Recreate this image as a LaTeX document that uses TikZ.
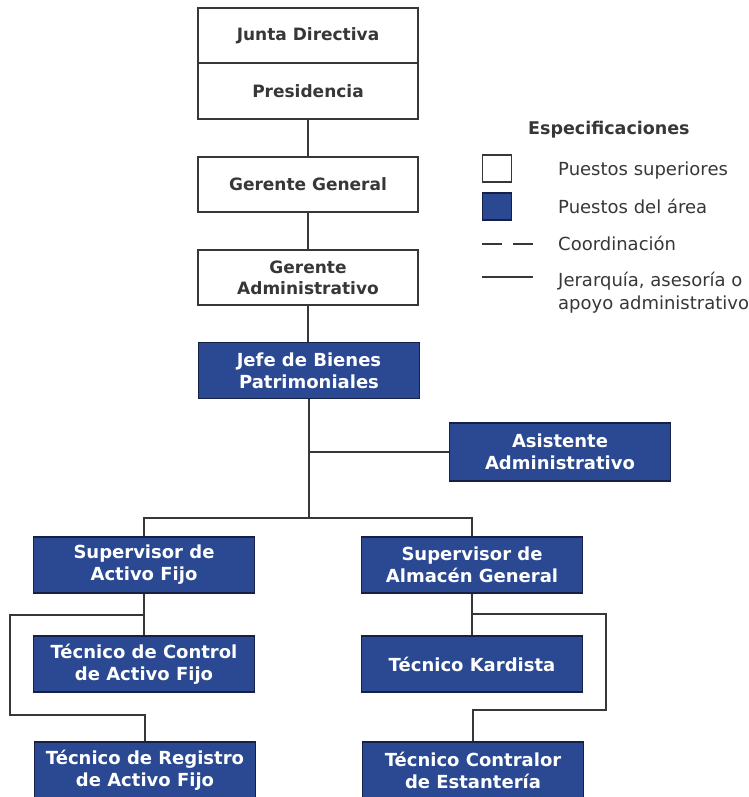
\documentclass[tikz,border=0pt]{standalone}
\usepackage{fontspec}
\setmainfont{DejaVu Sans}
\definecolor{areablue}{RGB}{42,73,146}
\definecolor{navyedge}{RGB}{22,32,70}
\definecolor{inkgray}{RGB}{55,55,55}
\tikzset{
  wbox/.style={draw=inkgray, line width=1.5pt, fill=white, minimum width=220pt, minimum height=55pt,
    align=center, inner sep=0pt, text=inkgray, font=\fontsize{17}{21}\selectfont\bfseries},
  bbox/.style={draw=navyedge, line width=1.5pt, fill=areablue, minimum width=221pt, minimum height=56pt,
    align=center, inner sep=0pt, text=white, font=\fontsize{18}{22}\selectfont\bfseries},
  conn/.style={draw=inkgray, line width=1.5pt},
  legtext/.style={anchor=base west, inner sep=0pt, text=inkgray, font=\fontsize{18}{22}\selectfont},
  legsq/.style={draw=inkgray, line width=1.3pt, minimum width=29pt, minimum height=27pt, inner sep=0pt}
}
\begin{document}
\begin{tikzpicture}[x=1pt,y=-1pt]
\useasboundingbox[fill=white] (0,0) rectangle (748,797);
% upper posts
\node[wbox] (junta) at (308,35.5) {Junta Directiva};
\node[wbox, minimum height=56pt] (pres) at (308,91) {Presidencia};
\node[wbox] (gg) at (308,184.5) {Gerente General};
\node[wbox] (ga) at (308,277.5) {Gerente\\Administrativo};
% area posts
\node[bbox] (jefe) at (309,370.5) {Jefe de Bienes\\Patrimoniales};
\node[bbox, minimum height=58pt] (asis) at (560,452) {Asistente\\Administrativo};
\node[bbox] (supaf) at (144,565) {Supervisor de\\Activo Fijo};
\node[bbox] (supag) at (472,565) {Supervisor de\\Almacén General};
\node[bbox] (tcaf) at (144,664) {Técnico de Control\\de Activo Fijo};
\node[bbox] (tk) at (472,664) {Técnico Kardista};
\node[bbox] (tra) at (145,770) {Técnico de Registro\\de Activo Fijo};
\node[bbox] (tce) at (473,770) {Técnico Contralor\\de Estantería};
% connectors
\coordinate (split) at (309,518);
\draw[conn] (pres.south) -- (gg.north);
\draw[conn] (gg.south) -- (ga.north);
\draw[conn] (ga.south) -- (ga.south |- jefe.north);
\draw[conn] (jefe.south) -- (split);
\draw[conn] (jefe.south |- asis.west) -- (asis.west);
\draw[conn] (split) -| (supaf.north);
\draw[conn] (split) -| (supag.north);
\draw[conn] (supaf.south) -- (tcaf.north);
\coordinate (lA) at (10,615);
\coordinate (lB) at (10,715);
\draw[conn] (supaf.south |- lA) -- (lA) -- (lB) -| (tra.north);
\draw[conn] (supag.south) -- (tk.north);
\coordinate (rA) at (606,614);
\coordinate (rB) at (606,710);
\draw[conn] (supag.south |- rA) -- (rA) -- (rB) -| (tce.north);
% legend
\node[anchor=base west, inner sep=0pt, text=inkgray, font=\fontsize{17.5}{21}\selectfont\bfseries] (spec) at (528,134) {Especificaciones};
\node[legsq, fill=white] (lsq1) at (497,168.5) {};
\node[legsq, fill=areablue, draw=navyedge] (lsq2) at (497,206.5) {};
\coordinate (d1) at (482,244); \coordinate (d2) at (533,244);
\draw[inkgray, line width=1.5pt, dash pattern=on 20pt off 11pt] (d1) -- (d2);
\coordinate (s1) at (482,277); \coordinate (s2) at (533,277);
\draw[inkgray, line width=1.5pt] (s1) -- (s2);
\node[legtext] (l1) at (558,175) {Puestos superiores};
\node[legtext] (l2) at (558,213) {Puestos del área};
\node[legtext] (l3) at (558,250) {Coordinación};
\node[legtext] (l4) at (558,286) {Jerarquía, asesoría o};
\node[legtext] (l5) at (558,309) {apoyo administrativo};
\end{tikzpicture}
\end{document}
